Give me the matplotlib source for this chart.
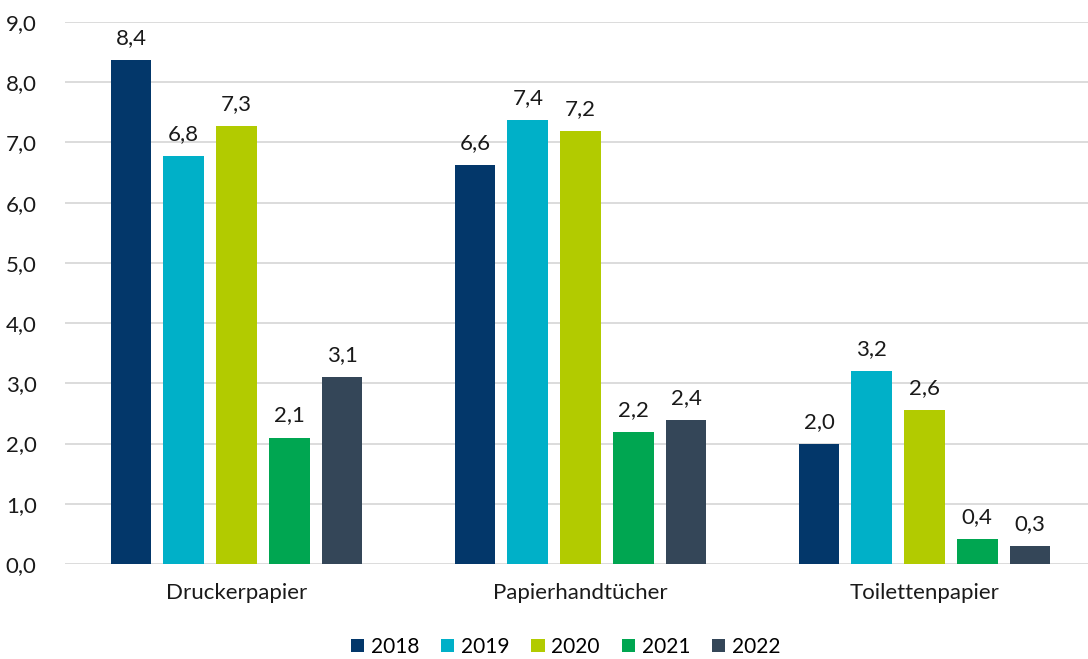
import matplotlib
matplotlib.use("Agg")
import matplotlib.pyplot as plt
import numpy as np

categories = ["Druckerpapier", "Papierhandtücher", "Toilettenpapier"]
years = ["2018", "2019", "2020", "2021", "2022"]
v2018 = [8.37, 6.62, 1.99]
v2019 = [6.77, 7.37, 3.20]
v2020 = [7.27, 7.19, 2.56]
v2021 = [2.10, 2.19, 0.41]
v2022 = [3.10, 2.39, 0.30]
series = [v2018, v2019, v2020, v2021, v2022]
colors = ["#03376A", "#00B0C8", "#B2CB00", "#00A651", "#344658"]

plt.rcParams['font.family'] = ['Lato', 'DejaVu Sans']
FS = 16

fig = plt.figure(figsize=(10.88, 6.59), dpi=100)
ax = fig.add_axes([64.5/1088, 1 - 564/659, (1096.5-64.5)/1088, (564-22)/659])

x = np.arange(len(categories))
pitch = 0.1533
width = 0.119
for i, (vals, c, y) in enumerate(zip(series, colors, years)):
    pos = x + (i - 2) * pitch
    ax.bar(pos, vals, width=width, color=c, label=y, zorder=3)
    for p, v in zip(pos, vals):
        ax.text(p, v + 0.2, f"{v:.1f}".replace(".", ","), ha="center", va="bottom",
                fontsize=FS, color="#1a1a1a")

ax.set_xlim(-0.5, 2.5)
ax.set_ylim(0, 9)
ticks = np.arange(0, 9.5, 1.0)
ax.set_yticks(ticks)
ax.set_yticklabels([f"{t:.1f}".replace(".", ",") for t in ticks], fontsize=FS, color="#1a1a1a")
ax.set_xticks(x)
ax.set_xticklabels(categories, fontsize=FS, color="#1a1a1a")
ax.tick_params(axis="both", length=0)
ax.tick_params(axis="y", pad=20)
ax.tick_params(axis="x", pad=14)
ax.grid(axis="y", color="#d9d9d9", linewidth=1.3, zorder=0)
for s in ax.spines.values():
    s.set_visible(False)

fig.legend(loc="lower center", bbox_to_anchor=(0.52, -0.025), ncol=5, frameon=False,
           fontsize=15, handlelength=0.63, handleheight=0.63, handletextpad=0.33,
           columnspacing=1.05)

fig.savefig("out.png", dpi=100)
